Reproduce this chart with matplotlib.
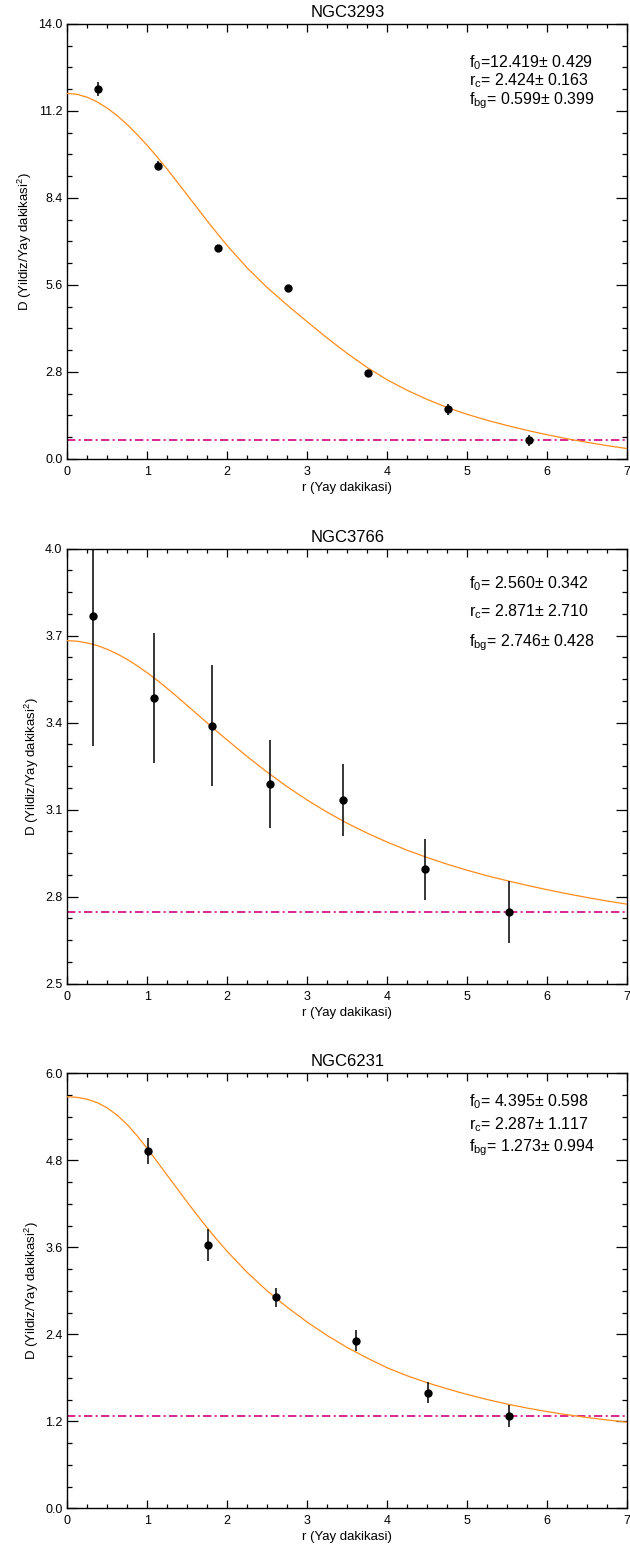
import numpy as np
import matplotlib
matplotlib.use("Agg")
import matplotlib.pyplot as plt
from matplotlib.ticker import FixedLocator, MultipleLocator, FormatStrFormatter

plt.rcParams['font.family'] = ['Liberation Sans', 'DejaVu Sans']
plt.rcParams['mathtext.fontset'] = 'custom'
plt.rcParams['mathtext.rm'] = 'Liberation Sans'
plt.rcParams['mathtext.it'] = 'Liberation Sans:italic'
plt.rcParams['mathtext.bf'] = 'Liberation Sans:bold'

# ---- data ----
names = ['NGC3293', 'NGC3766', 'NGC6231']

r_pts1 = [0.38, 1.13, 1.88, 2.76, 3.76, 4.76, 5.77]
d_pts1 = [11.90, 9.43, 6.79, 5.49, 2.75, 1.59, 0.59]
e_pts1 = [0.22, 0.15, 0.10, 0.10, 0.10, 0.17, 0.17]

r_pts2 = [0.325, 1.08, 1.805, 2.534, 3.44, 4.467, 5.521]
d_pts2 = [3.768, 3.485, 3.390, 3.190, 3.132, 2.894, 2.747]
e_pts2 = [0.447, 0.223, 0.209, 0.152, 0.124, 0.106, 0.107]

r_pts3 = [1.009, 1.759, 2.609, 3.609, 4.513, 5.521]
d_pts3 = [4.933, 3.636, 2.910, 2.308, 1.595, 1.278]
e_pts3 = [0.180, 0.223, 0.135, 0.145, 0.145, 0.152]

# fitted profile (finer steps where it bends most)
r_fit = [0.0, 0.125, 0.25, 0.375, 0.5, 0.625, 0.75, 0.875, 1.0, 1.125, 1.25,
         1.375, 1.5, 1.625, 1.75, 1.875, 2.0, 2.25, 2.5, 2.75, 3.0, 3.25, 3.5,
         3.75, 4.0, 4.25, 4.5, 4.75, 5.0, 5.25, 5.5, 5.75, 6.0, 6.25, 6.5,
         6.75, 7.0]
d_fit1 = [11.760, 11.730, 11.635, 11.485, 11.285, 11.040, 10.754, 10.430,
          10.085, 9.710, 9.316, 8.905, 8.487, 8.070, 7.652, 7.250, 6.858,
          6.139, 5.508, 4.945, 4.408, 3.883, 3.389, 2.936, 2.540, 2.203, 1.909,
          1.649, 1.429, 1.239, 1.069, 0.914, 0.772, 0.644, 0.528, 0.423, 0.328]
d_fit2 = [3.683, 3.681, 3.675, 3.666, 3.653, 3.637, 3.618, 3.596, 3.572,
          3.546, 3.518, 3.489, 3.459, 3.429, 3.399, 3.369, 3.340, 3.283,
          3.229, 3.179, 3.133, 3.091, 3.053, 3.019, 2.988, 2.960, 2.935,
          2.912, 2.891, 2.872, 2.855, 2.839, 2.824, 2.810, 2.797, 2.785, 2.774]
d_fit3 = [5.677, 5.668, 5.642, 5.595, 5.522, 5.420, 5.292, 5.135, 4.962,
          4.778, 4.592, 4.407, 4.222, 4.042, 3.867, 3.700, 3.542, 3.252,
          2.997, 2.772, 2.567, 2.382, 2.217, 2.072, 1.937, 1.827, 1.732,
          1.647, 1.570, 1.500, 1.437, 1.382, 1.333, 1.290, 1.252, 1.218, 1.188]

f_bg = [0.599, 2.746, 1.273]

fit_text = [
    [r'f$_0$=12.419± 0.429', r'r$_\mathrm{c}$= 2.424± 0.163', r'f$_\mathrm{bg}$= 0.599± 0.399'],
    [r'f$_0$= 2.560± 0.342', r'r$_\mathrm{c}$= 2.871± 2.710', r'f$_\mathrm{bg}$= 2.746± 0.428'],
    [r'f$_0$= 4.395± 0.598', r'r$_\mathrm{c}$= 2.287± 1.117', r'f$_\mathrm{bg}$= 1.273± 0.994'],
]
text_y = [[0.901, 0.858, 0.815], [0.909, 0.844, 0.776], [0.923, 0.872, 0.821]]

y_lims = [(0, 14), (2.5, 4.0), (0, 6)]
y_major = [2.8, 0.3, 1.2]

points = [(r_pts1, d_pts1, e_pts1), (r_pts2, d_pts2, e_pts2), (r_pts3, d_pts3, e_pts3)]
fits = [d_fit1, d_fit2, d_fit3]

# ---- layout (pixel positions of the reference) ----
W, H = 630, 1551
ax_top = [23.8, 548.7, 1073.3]
ax_h = 435.0
ax_left, ax_w = 67.3, 560.0

fig = plt.figure(figsize=(W / 100, H / 100), dpi=100)

for i in range(3):
    ax = fig.add_axes([ax_left / W, 1 - (ax_top[i] + ax_h) / H, ax_w / W, ax_h / H])
    r, d, e = points[i]

    ax.axhline(f_bg[i], color='#d6007e', lw=1.2, dashes=(5, 2, 1.2, 2), zorder=2)
    ax.plot(r_fit, fits[i], color='#ff8c1a', lw=0.9, zorder=3,
            solid_joinstyle='round')
    ax.errorbar(r, d, yerr=e, fmt='o', color='black', ms=5, elinewidth=1.1,
                capsize=0, zorder=4)

    lo, hi = y_lims[i]
    step = y_major[i]
    ax.set_xlim(0, 7)
    ax.set_ylim(lo, hi)
    ax.xaxis.set_major_locator(MultipleLocator(1))
    ax.xaxis.set_minor_locator(MultipleLocator(0.25))
    ax.yaxis.set_major_locator(FixedLocator(np.arange(lo, hi + step / 10, step)))
    ax.yaxis.set_minor_locator(FixedLocator(np.arange(lo, hi + step / 40, step / 4)))
    ax.yaxis.set_major_formatter(FormatStrFormatter('%.1f'))

    ax.tick_params(axis='both', which='both', direction='in', top=True, right=True,
                   width=0.9, labelsize=9)
    ax.tick_params(axis='x', which='major', length=5.8, pad=5)
    ax.tick_params(axis='x', which='minor', length=2.9)
    ax.tick_params(axis='y', which='major', length=7.9, pad=3.5)
    ax.tick_params(axis='y', which='minor', length=3.6)
    for s in ax.spines.values():
        s.set_linewidth(1.0)

    ax.set_title(names[i], fontsize=12, pad=5)
    ax.set_xlabel('r (Yay dakikasi)', fontsize=9.5, labelpad=3)
    ax.set_ylabel(r'D (Yildiz/Yay dakikasi$^{2}$)', fontsize=9.5, labelpad=3)

    for txt, ty in zip(fit_text[i], text_y[i]):
        ax.text(0.717, ty, txt, transform=ax.transAxes, fontsize=11.5,
                ha='left', va='baseline')

fig.savefig('out.png', dpi=100)
